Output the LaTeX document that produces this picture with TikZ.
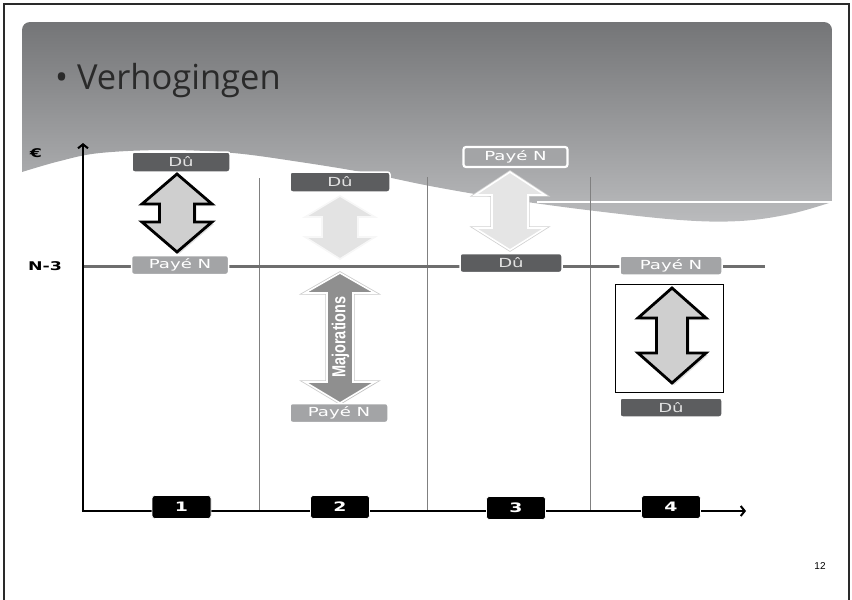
\documentclass[tikz,border=0pt]{standalone}
\usepackage{fontspec}
\usepackage{graphicx}
\setmainfont{DejaVu Sans}
\newfontfamily\titlefont{Open Sans}
\newfontfamily\lsans{Liberation Sans}
\usetikzlibrary{arrows.meta,shadows}
\definecolor{frameC}{HTML}{2A2A2A}
\definecolor{bannerTop}{HTML}{747577}
\definecolor{bannerBot}{HTML}{BABBBD}
\definecolor{duGray}{HTML}{5C5D5F}
\definecolor{duText}{HTML}{E2E2E2}
\definecolor{payeGray}{HTML}{A3A4A6}
\definecolor{vlineC}{HTML}{808080}
\definecolor{hlineC}{HTML}{6E6E6E}
\definecolor{titleC}{HTML}{2A2A2A}
\newcommand{\hstr}[1]{\scalebox{1.45}[1]{#1}}
% style, cx, ytop, ybase1, ybase2, ybot, head half width, shaft half width
\newcommand{\myudarrow}[8]{%
  \path[#1] ({#2},{#3}) -- ({#2+#7},{#4}) -- ({#2+#8},{#4}) -- ({#2+#8},{#5})
    -- ({#2+#7},{#5}) -- ({#2},{#6}) -- ({#2-#7},{#5}) -- ({#2-#8},{#5})
    -- ({#2-#8},{#4}) -- ({#2-#7},{#4}) -- cycle;}
\begin{document}
\begin{tikzpicture}[x=1pt,y=-1pt,
  duBox/.style={draw=white, line width=1.5pt, fill=duGray, rounded corners=2.5pt,
    minimum height=20pt, minimum width=100pt, inner sep=0pt, text=duText,
    font=\fontsize{12.5}{12.5}\selectfont},
  payeBox/.style={duBox, fill=payeGray, text=white},
  numBox/.style={draw=white, line width=0.6pt, fill=black, rounded corners=3pt,
    minimum width=59pt, minimum height=23pt, inner sep=0pt, text=white,
    font=\bfseries\fontsize{13}{13}\selectfont},
  axisline/.style={line width=2.2pt, black, -{Straight Barb[length=4pt,width=10pt,line width=2pt]}},
  blackArrow/.style={fill=black!19, draw=black, line width=2.8pt, line join=miter,
    drop shadow={opacity=0.25, shadow xshift=2pt, shadow yshift=-2pt}},
  fadeArrow/.style={fill=black!11, draw=black!3, line width=1.6pt, line join=miter},
  majArrow/.style={fill=black!44, draw=white, line width=1.6pt, line join=miter,
    drop shadow={opacity=0.2, shadow xshift=1pt, shadow yshift=-1pt}},
  lbl/.style={font=\bfseries\fontsize{12}{12}\selectfont, text=black, inner sep=0pt}
]
\useasboundingbox (0,0) rectangle (852,600);
% outer frame
\draw[frameC, line width=2pt] (3.5,610) -- (3.5,3.5) -- (848.5,3.5) -- (848.5,610);
% banner
\path[top color=bannerTop, bottom color=bannerBot]
  (22,172) -- (22,30) arc[start angle=180, end angle=270, radius=8]
  -- (824,22) arc[start angle=270, end angle=360, radius=8]
  -- (832,202)
  -- plot[smooth, tension=0.6] coordinates {(832,202) (790,214) (740,221) (680,220) (587,210) (500,198) (430,186) (367,173) (300,162) (233,153) (167,150) (100,153) (60,161) (22,172)}
  -- cycle;
\draw[white, line width=1.2pt] (537,202) -- (832,202);
\node[anchor=base west, text=titleC, font=\titlefont\fontsize{34.5}{38}\selectfont, inner sep=0pt]
  (title) at (55,89) {\textbullet\ Verhogingen};
% grid lines
\draw[vlineC, line width=1pt] (259,178) -- (259,511);
\draw[vlineC, line width=1pt] (427,177) -- (427,511);
\draw[vlineC, line width=1pt] (590,177) -- (590,511);
\draw[hlineC, line width=3pt] (84,266) -- (765,266);
% axes
\coordinate (origin) at (83,511);
\coordinate (ytip) at (83,143);
\coordinate (xtip) at (746,511);
\draw[axisline] (origin) -- (ytip);
\draw[axisline] ([xshift=-1.1pt]origin) -- (xtip);
\node[lbl] (euro) at (36,153) {\hstr{€}};
\node[lbl] (n3) at (45,266) {\hstr{N-3}};
% number boxes
\node[numBox] (c1) at (181.5,507) {\hstr{1}};
\node[numBox] (c2) at (340,507) {\hstr{2}};
\node[numBox] (c3) at (516,508) {\hstr{3}};
\node[numBox] (c4) at (671,507) {\hstr{4}};
% column 1
\node[duBox, minimum width=98pt] (du1) at (181,162) {\hstr{Dû}};
\node[payeBox, minimum width=97pt, minimum height=19pt] (pn1) at (180,265) {\hstr{Payé N}};
\myudarrow{blackArrow}{177}{174}{204}{222}{252}{35}{17.5}
% column 2
\node[duBox] (du2) at (340,182) {\hstr{Dû}};
\myudarrow{fadeArrow}{340}{196}{217}{237}{259}{35}{18}
\myudarrow{draw=black!20, line width=3.2pt, line join=miter}{340}{273}{293}{382}{403}{35}{13}
\myudarrow{majArrow}{340}{273}{293}{382}{403}{35}{13}
\node[rotate=90, text=white, font=\lsans\bfseries\fontsize{14.5}{14.5}\selectfont, inner sep=0pt]
  (maj) at (340.5,337) {\scalebox{1}[1.3]{Majorations}};
\node[payeBox, minimum width=98pt, minimum height=19pt] (pn2) at (339,413) {\hstr{Payé N}};
% column 3
\node[payeBox, line width=2.2pt, minimum width=104pt] (pn3) at (515.5,157) {\hstr{Payé N}};
\myudarrow{draw=black!18, line width=3.2pt, line join=miter}{510}{172}{195}{228}{250}{35}{18}
\myudarrow{fill=black!10, draw=white, line width=1.6pt, line join=miter}{510}{172}{195}{228}{250}{35}{18}
\node[duBox, minimum width=102pt, minimum height=19pt] (du3) at (511,263) {\hstr{Dû}};
% column 4
\node[payeBox, minimum width=102pt, minimum height=19pt] (pn4) at (671,265.5) {\hstr{Payé N}};
\node[draw=black, line width=1pt, fill=white, minimum width=108pt, minimum height=108pt, inner sep=0pt]
  (frame4) at (669,338) {};
\myudarrow{blackArrow}{672}{288}{318}{353}{383}{34}{15.5}
\node[duBox, minimum width=102pt, minimum height=19pt] (du4) at (671,407.5) {\hstr{Dû}};
% page number
\node[font=\lsans\fontsize{10}{10}\selectfont, inner sep=0pt] (pg) at (820,566) {12};
\end{tikzpicture}
\end{document}
